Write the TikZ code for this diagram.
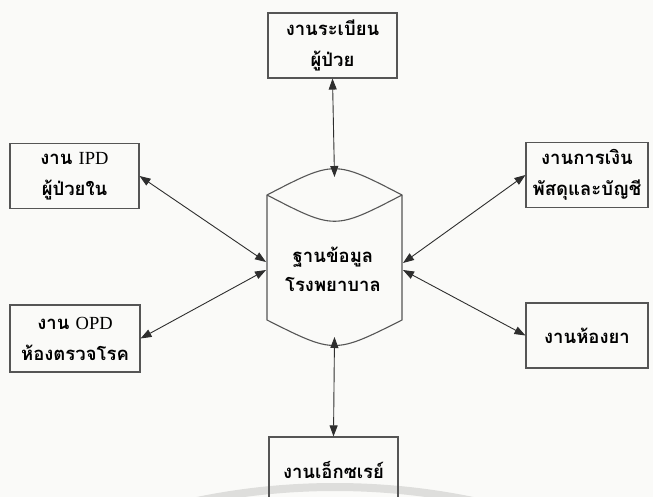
\documentclass[tikz,border=0pt]{standalone}
\usepackage{fontspec}
\setmainfont{Liberation Serif}
\newfontfamily\thai[Script=Thai]{Loma}
\usetikzlibrary{arrows.meta}
\definecolor{paper}{HTML}{FAFAF8}
\definecolor{ink}{HTML}{2E2E2E}
\definecolor{frame}{HTML}{555555}
\definecolor{arcgray}{HTML}{DEDEDC}
\tikzset{
  unit/.style={draw=frame, line width=1.1pt, minimum width=129pt, minimum height=65pt,
    align=center, font=\thai\bfseries\fontsize{18.5}{31}\selectfont, inner sep=0pt},
  link/.style={draw=ink, line width=0.9pt, {Triangle[length=11pt,width=8pt]}-{Triangle[length=11pt,width=8pt]}},
  dbshape/.style={draw=frame, line width=1.1pt, fill=paper},
  dblabel/.style={align=center, font=\thai\bfseries\fontsize{18.5}{29}\selectfont, inner sep=0pt}
}
\begin{document}
\begin{tikzpicture}[x=1pt, y=-1pt]
  \useasboundingbox (0,0) rectangle (653,497);
  \clip (0,0) rectangle (653,497);
  \fill[paper] (0,0) rectangle (653,497);

  % faint arc near the lower edge
  \draw[arcgray, line width=8pt] (335,1167) circle[radius=680];

  % database cylinder
  \draw[dbshape] (267,195) .. controls (334.5,160) .. (402,195)
     -- (402,320) .. controls (334.5,354) .. (267,320) -- cycle;
  \draw[frame, line width=1.1pt] (267,195) .. controls (334.5,230) .. (402,195);
  \node[dblabel] (db) at (333,269) {ฐานข้อมูล\\โรงพยาบาล};

  % connection points on the cylinder
  \coordinate (dbtop) at (334.5,177);
  \coordinate (dbbot) at (334.5,337);
  \coordinate (dbl1) at (266,262);
  \coordinate (dbl2) at (266,270);
  \coordinate (dbr1) at (403,263);
  \coordinate (dbr2) at (403,270);

  % departments
  \node[unit] (reg) at (332.5,45.5) {งานระเบียน\\ผู้ป่วย};
  \node[unit] (ipd) at (74.5,176) {งาน {\rmfamily\mdseries IPD}\\ผู้ป่วยใน};
  \node[unit, minimum width=122pt] (fin) at (587,175) {งานการเงิน\\พัสดุและบัญชี};
  \node[unit, minimum width=130pt, minimum height=67pt] (opd) at (75,338.5) {งาน {\rmfamily\mdseries OPD}\\ห้องตรวจโรค};
  \node[unit, minimum width=122pt] (pha) at (587,335.5) {งานห้องยา};
  \node[unit] (xray) at (333.5,469.5) {งานเอ็กซเรย์};

  % links
  \draw[link] (reg.south) -- (dbtop);
  \draw[link] (ipd.east) -- (dbl1);
  \draw[link] (opd.east) -- (dbl2);
  \draw[link] (fin.west) -- (dbr1);
  \draw[link] (pha.west) -- (dbr2);
  \draw[link] (xray.north) -- (dbbot);
\end{tikzpicture}
\end{document}
